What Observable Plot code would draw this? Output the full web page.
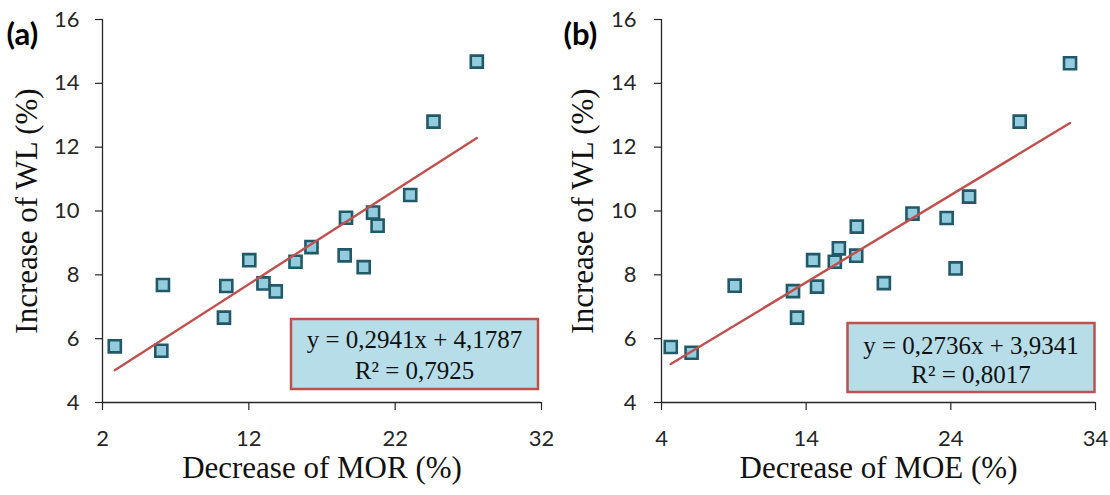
<!DOCTYPE html>
<html>
<head>
<meta charset="utf-8">
<script src="https://cdn.jsdelivr.net/npm/d3@7"></script>
<script src="https://cdn.jsdelivr.net/npm/@observablehq/plot@0.6"></script>
<style>
  html, body { margin: 0; padding: 0; background: #fff; }
  #wrap { display: flex; width: 1110px; height: 495px; }
</style>
</head>
<body>
<div id="wrap"></div>
<script>
// ---- data ----
const wl = [5.76, 7.68, 5.62, 7.65, 6.66, 8.46, 7.73, 7.48, 8.41, 8.87, 9.79, 8.61, 8.24, 9.95, 9.54, 10.50, 12.80, 14.68];
const mor = [2.84, 6.13, 6.02, 10.46, 10.30, 12.03, 13.00, 13.84, 15.19, 16.28, 18.64, 18.55, 19.85, 20.49, 20.80, 23.03, 24.62, 27.58];

const wlB = [5.74, 5.56, 7.66, 7.49, 6.66, 8.46, 7.63, 8.41, 8.83, 9.51, 8.60, 7.74, 9.92, 9.78, 8.20, 10.45, 12.80, 14.63];
const moe = [4.64, 6.08, 9.06, 13.09, 13.37, 14.48, 14.75, 15.98, 16.26, 17.50, 17.46, 19.37, 21.35, 23.71, 24.33, 25.26, 28.76, 32.24];

const trendA = {slope: 0.2941, intercept: 4.1787};
const trendB = {slope: 0.2736, intercept: 3.9341};
const eqA = ["y = 0,2941x + 4,1787", "R² = 0,7925"];
const eqB = ["y = 0,2736x + 3,9341", "R² = 0,8017"];

const xTicksA = [2, 12, 22, 32];
const xTicksB = [4, 14, 24, 34];
const yTicks = [4, 6, 8, 10, 12, 14, 16];

const panelLabels = ["(a)", "(b)"];
const xLabels = ["Decrease of MOR (%)", "Decrease of MOE (%)"];
const yLabel = "Increase of WL (%)";

// ---- styles ----
const axisColor = "#262626";
const serif = "'Liberation Serif', 'Times New Roman', serif";
const sans = "Lato, 'Open Sans', sans-serif";

function eqBox(lines, o) {
  return (index, scales, values, dim) => {
    const right = dim.width - dim.marginRight - o.right;
    const bottom = dim.height - dim.marginBottom - o.bottom;
    const x0 = right - o.w, y0 = bottom - o.h;
    const g = d3.create("svg:g");
    g.append("rect")
      .attr("x", x0).attr("y", y0).attr("width", o.w).attr("height", o.h)
      .attr("fill", "#B7DEE8").attr("stroke", "#C0504D").attr("stroke-width", 2.5);
    g.selectAll("text").data(lines).join("text")
      .attr("x", x0 + o.w / 2)
      .attr("y", (d, i) => y0 + o.base + i * o.lh)
      .attr("text-anchor", "middle")
      .attr("font-family", serif)
      .attr("font-size", o.fs)
      .attr("fill", "#111")
      .text(d => d);
    return g.node();
  };
}

function panel(xs, ys, trend, eq, xTicks, label, xLabel, m, box) {
  const data = xs.map((x, i) => ({x, y: ys[i]}));
  const ext = d3.extent(xs);
  const line = ext.map(x => ({x, y: trend.slope * x + trend.intercept}));
  return Plot.plot({
    width: 555,
    height: 495,
    marginLeft: m.left,
    marginRight: m.right,
    marginTop: 19,
    marginBottom: 93,
    style: {background: "#fff", fontFamily: sans},
    x: {domain: [xTicks[0], xTicks[xTicks.length - 1]]},
    y: {domain: [4, 16]},
    marks: [
      Plot.axisX({ticks: xTicks, tickSize: 8, tickPadding: 20, fontSize: 22, fontFamily: sans, color: axisColor, strokeWidth: 1.2, label: null, tickFormat: d => String(d)}),
      Plot.axisY({ticks: yTicks, tickSize: 7, tickPadding: m.pad, fontSize: 22, fontFamily: sans, color: axisColor, strokeWidth: 1.2, label: null, tickFormat: d => String(d)}),
      Plot.ruleY([4], {stroke: axisColor, strokeWidth: 1.3}),
      Plot.ruleX([xTicks[0]], {stroke: axisColor, strokeWidth: 1.3}),
      Plot.dot(data, {x: "x", y: "y", symbol: "square", r: 6.8, fill: "#93CDDD", stroke: "#215968", strokeWidth: 2.6}),
      Plot.line(line, {x: "x", y: "y", stroke: "#C0504D", strokeWidth: 2.4}),
      eqBox(eq, box),
      Plot.text([label], {text: d => d, frameAnchor: "top-left", textAnchor: "start", lineAnchor: "middle", dx: m.labelDx, dy: 16, fontSize: 31, fontWeight: "bold", fontFamily: sans, fill: "#000"}),
      Plot.text([xLabel], {text: d => d, frameAnchor: "bottom", textAnchor: "middle", lineAnchor: "middle", dy: 66, fontSize: 31, fontFamily: serif, fill: "#111"}),
      Plot.text([yLabel], {text: d => d, frameAnchor: "left", textAnchor: "middle", lineAnchor: "middle", rotate: -90, dx: m.yLabDx, fontSize: 31, fontFamily: serif, fill: "#111"})
    ]
  });
}

const wrap = document.getElementById("wrap");
wrap.append(panel(mor, wl, trendA, eqA, xTicksA, panelLabels[0], xLabels[0],
  {left: 102, right: 14, pad: 16, labelDx: -96, yLabDx: -75},
  {w: 247, h: 70, right: 3, bottom: 13, base: 29, lh: 31, fs: 25}));
wrap.append(panel(moe, wlB, trendB, eqB, xTicksB, panelLabels[1], xLabels[1],
  {left: 106, right: 15, pad: 18, labelDx: -98, yLabDx: -78},
  {w: 247, h: 69, right: 0.5, bottom: 10, base: 30.5, lh: 29.5, fs: 25}));
</script>
</body>
</html>
